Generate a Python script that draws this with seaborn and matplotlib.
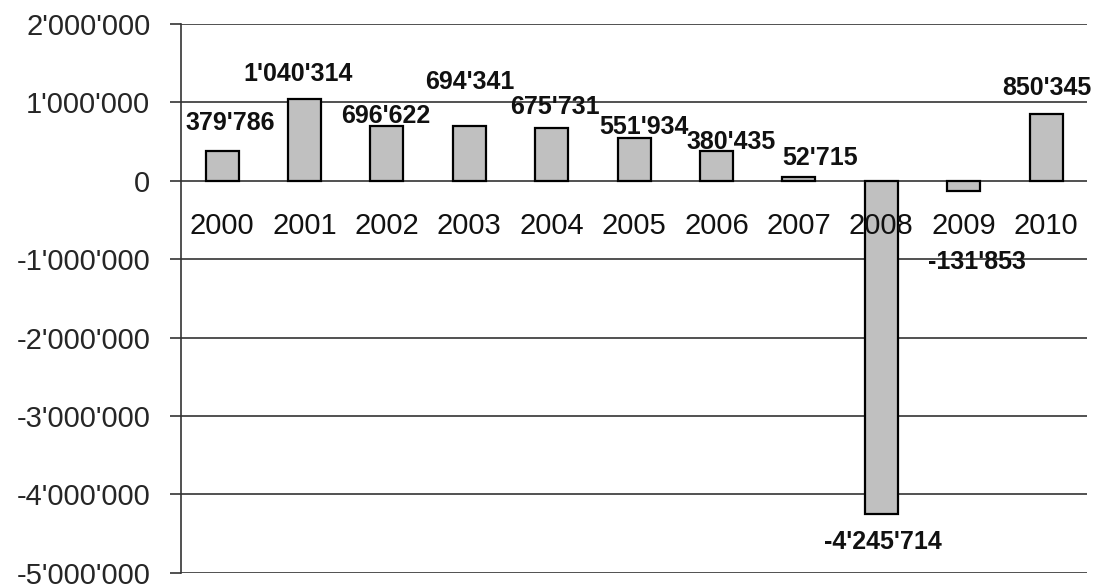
import pandas as pd
import numpy as np
import seaborn as sns
import matplotlib.pyplot as plt
from matplotlib.ticker import FuncFormatter

years = ['2000', '2001', '2002', '2003', '2004', '2005', '2006', '2007', '2008', '2009', '2010']
values = [379786, 1040314, 696622, 694341, 675731, 551934, 380435, 52715, -4245714, -131853, 850345]

# label nudges in pixels (the original labels sit a bit off their bars)
label_dx = [8, -6, -1, 1, 3, 10, 15, 21, 2, 13, 1]
label_dy = [28, 25, 10, 44, 21, 11, 9, 19, -28, -71, 26]

def swiss(v):
    return f"{int(round(v)):,}".replace(',', "'")

df = pd.DataFrame({'year': years, 'value': values})

sns.set_style('white')
plt.rcParams['font.family'] = ['Liberation Sans', 'DejaVu Sans']

fig = plt.figure(figsize=(10.96, 5.84), dpi=100)
ax = fig.add_axes([0.165, 0.019, 0.827, 0.940])

sns.barplot(data=df, x='year', y='value', color='#C0C0C0', edgecolor='black',
            linewidth=1.6, width=0.4, saturation=1, ax=ax, zorder=1)

ax.set_ylim(-5000000, 2000000)
ax.set_xlim(-0.5, 10.5)
yt = np.arange(-5000000, 2000001, 1000000)
ax.set_yticks(yt)
ax.yaxis.set_major_formatter(FuncFormatter(lambda v, p: swiss(v)))
ax.grid(False)
for t in yt:
    ax.axhline(t, color='#333333', lw=1.2, zorder=0.5)

for s in ['top', 'right', 'bottom']:
    ax.spines[s].set_visible(False)
ax.spines['left'].set_color('#333333')
ax.spines['left'].set_linewidth(1.2)

ax.tick_params(axis='y', length=8, width=1.2, color='#333333', pad=14, labelsize=21, direction='out', left=True)
ax.set_xticks([])
ax.set_xlabel('')
ax.set_ylabel('')

# category labels just below the zero line
for i, yr in enumerate(years):
    ax.annotate(yr, (i, 0), xytext=(0, -45), textcoords='offset pixels',
                ha='center', va='center', fontsize=21, color='#111111', zorder=3)

for i, v in enumerate(values):
    ax.annotate(swiss(v), (i, v), xytext=(label_dx[i], label_dy[i]), textcoords='offset pixels',
                ha='center', va='center', fontsize=18, fontweight='bold', color='#111111', zorder=4)

fig.savefig('out.png', dpi=100)
